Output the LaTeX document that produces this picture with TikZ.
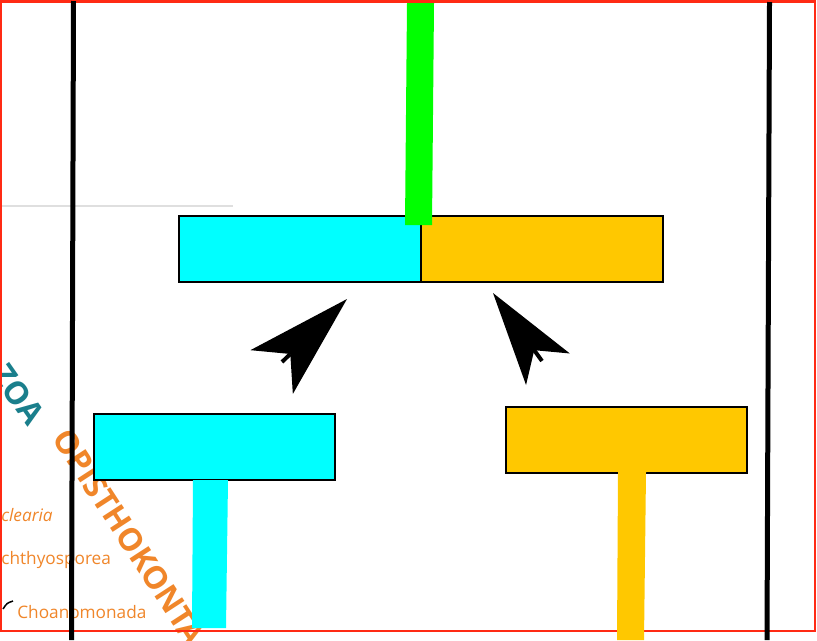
\documentclass[tikz,border=0pt]{standalone}
\usepackage{fontspec}
\newfontfamily\cladefont{Open Sans}
\usepackage{xcolor}
\usepackage{tikz}
\usetikzlibrary{arrows.meta}
\definecolor{cyanfill}{HTML}{00FFFF}
\definecolor{goldfill}{HTML}{FFC800}
\definecolor{stemgreen}{HTML}{00FF00}
\definecolor{framered}{HTML}{FF2A14}
\definecolor{cladeorange}{HTML}{F0862A}
\definecolor{cladeteal}{HTML}{1A7F8C}
\tikzset{
  box/.style={draw,line width=0.04cm,minimum width=4.84cm,minimum height=1.32cm,inner sep=0pt,outer sep=0pt},
  vline/.style={line width=0.1cm},
  arr/.style n args={3}{line width=0.08cm,-{Stealth[length=#1,width=#2,inset=#3,line width=0pt]}},
  clade/.style={font=\cladefont\bfseries\fontsize{18}{18}\selectfont,inner sep=0pt},
  taxon/.style={text=cladeorange,font=\cladefont\fontsize{9.8}{12}\selectfont,inner sep=0pt,anchor=base west},
}

\begin{document}
\begin{tikzpicture}[x=0.02cm,y=-0.02cm]
\useasboundingbox (0,0) rectangle (817,640);
\clip (0,0) rectangle (817,640);
\fill[white] (0,0) rectangle (817,640);
% tree labels underneath
\node[clade,text=cladeteal,rotate=-55,anchor=east] (zoa) at (37,421) {ZOA};
\node[clade,text=cladeorange,rotate=-57,anchor=west] (opis) at (61,432) {OPISTHOKONTA};
\node[taxon] (nucl) at (1,521) {\itshape clearia};
\node[taxon] (ichth) at (1,564) {chthyosporea};
\node[taxon] (choano) at (17,618) {Choanomonada};
\draw[line width=0.03cm] (3,609) .. controls (7,603) .. (13,601);
\draw[gray!25,line width=0.04cm] (0,206) -- (233,206);
% frame and borders
\draw[framered,line width=0.05cm] (1,1.5) rectangle (815,631);
\draw[vline] (73.5,1) -- (71.5,640);
\draw[vline] (769.5,2) -- (767,640);
% boxes
\node[box,fill=cyanfill] (topc) at (300,248.5) {};
\node[box,fill=goldfill,anchor=west] (topg) at (topc.east) {};
\node[box,fill=cyanfill] (lowc) at (214.5,447) {};
\node[box,fill=goldfill] (lowg) at (626.5,440) {};
% stems
\fill[stemgreen] (407,3) -- (434,3) -- (432,225) -- (405,225) -- cycle;
\fill[cyanfill] (193,480) -- (228,480) -- (226,628) -- (192,628) -- cycle;
\fill[goldfill] (618,472) -- (646,472) -- (644,640) -- (617,640) -- cycle;
% arrows
\coordinate (la) at (282,362);
\coordinate (lt) at (347,299);
\coordinate (ra) at (542,361);
\coordinate (rt) at (493,293);
\draw[arr={2.1cm}{1.22cm}{0.52cm}] (la) -- (lt);
\draw[arr={1.88cm}{1.08cm}{0.47cm}] (ra) -- (rt);
\end{tikzpicture}
\end{document}
